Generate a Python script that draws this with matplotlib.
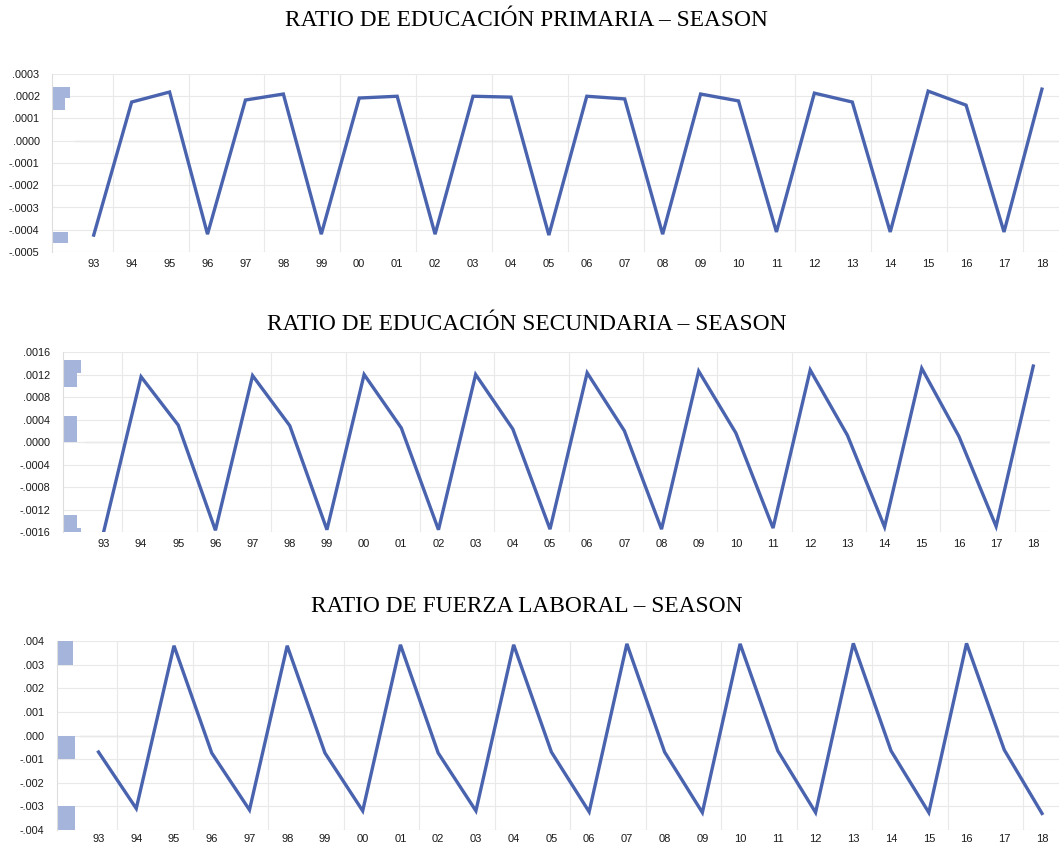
import numpy as np
import matplotlib
matplotlib.use("Agg")
import matplotlib.pyplot as plt
from matplotlib.ticker import FuncFormatter, MultipleLocator

years = ['93', '94', '95', '96', '97', '98', '99', '00', '01', '02', '03', '04', '05',
         '06', '07', '08', '09', '10', '11', '12', '13', '14', '15', '16', '17', '18']

primaria = [-0.000424, 0.000174, 0.000219, -0.000420, 0.000183, 0.000210, -0.000420,
            0.000192, 0.000200, -0.000420, 0.000200, 0.000196, -0.000424, 0.000200,
            0.000188, -0.000420, 0.000210, 0.000179, -0.000410, 0.000214, 0.000174,
            -0.000410, 0.000223, 0.000160, -0.000410, 0.000232]

secundaria = [-0.00158, 0.00116, 0.00030, -0.00157, 0.00118, 0.00029, -0.00156,
              0.00120, 0.00025, -0.00156, 0.00120, 0.00023, -0.00155, 0.00123,
              0.00020, -0.00155, 0.00126, 0.00016, -0.00153, 0.00128, 0.00012,
              -0.00151, 0.00131, 0.00010, -0.00150, 0.00135]

laboral = [-0.00070, -0.00309, 0.00380, -0.00074, -0.00315, 0.00380, -0.00074,
           -0.00319, 0.00384, -0.00074, -0.00319, 0.00384, -0.00070, -0.00323,
           0.00388, -0.00070, -0.00326, 0.00388, -0.00065, -0.00326, 0.00390,
           -0.00065, -0.00326, 0.00390, -0.00061, -0.00330]

# histogram bins (edges) and counts shown at the left of each panel
hist1_lo = [-0.00046, 0.00014, 0.00019]
hist1_hi = [-0.00041, 0.00019, 0.00024]
hist1_n = [9, 7, 10]

hist2_lo = [-0.00165, -0.00153, 0.0, 0.00023, 0.00098, 0.00122]
hist2_hi = [-0.00153, -0.00130, 0.00023, 0.00046, 0.00122, 0.00146]
hist2_n = [5, 4, 4, 4, 4, 5]

hist3_lo = [-0.004, -0.001, 0.003]
hist3_hi = [-0.003, 0.000, 0.004]
hist3_n = [9, 9, 8]

titles = ['RATIO DE EDUCACIÓN PRIMARIA – SEASON',
          'RATIO DE EDUCACIÓN SECUNDARIA – SEASON',
          'RATIO DE FUERZA LABORAL – SEASON']

W, H = 1059, 846
line_color = '#4a63ae'
hist_color = '#a4b4da'
grid_color = '#e9e9e9'
zero_color = '#c4c4c4'
XL, XR = -1.1, 25.45


def fmt(decimals):
    def f(v, pos):
        s = f"{v:.{decimals}f}"
        if s.startswith('-0'):
            s = '-' + s[2:]
        elif s.startswith('0'):
            s = s[1:]
        if s in ('-.0000', '-.000'):
            s = s[1:]
        return s
    return FuncFormatter(f)


def panel(fig, box, series, lo, hi, n, ylim, step, dec, title, title_y, xpad=5):
    left, right, top, bottom = box
    ax = fig.add_axes([left / W, 1 - bottom / H, (right - left) / W, (bottom - top) / H])
    x = np.arange(len(years))

    ax.set_xlim(XL, XR)
    ax.set_ylim(*ylim)

    # grid
    for gx in np.arange(0.5, 25, 2):
        ax.axvline(gx, color=grid_color, lw=0.8, zorder=0)
    ax.yaxis.set_major_locator(MultipleLocator(step))
    ax.grid(axis='y', color=grid_color, lw=0.8, zorder=0)
    ax.axhline(0, xmin=(-0.5 - XL) / (XR - XL), color=zero_color, lw=0.9, zorder=1)

    # distribution bars
    n = np.array(n, dtype=float)
    widths = n / n.max() * 0.48
    ax.barh(lo, widths, height=np.array(hi) - np.array(lo), left=XL, align='edge',
            color=hist_color, edgecolor='none', zorder=2)

    ax.plot(x, series, color=line_color, lw=2.4, zorder=3, solid_joinstyle='miter')

    ax.set_xticks(x)
    ax.set_xticklabels(years, fontsize=8, family='Liberation Sans', color='#1a1a1a')
    ax.yaxis.set_major_formatter(fmt(dec))
    for lab in ax.get_yticklabels():
        lab.set_fontsize(7.8)
        lab.set_family('Liberation Sans')
        lab.set_color('#1a1a1a')
    ax.tick_params(axis='both', length=0)
    ax.tick_params(axis='x', pad=xpad)
    ax.tick_params(axis='y', pad=9)

    for s in ['top', 'right', 'bottom']:
        ax.spines[s].set_visible(False)
    ax.spines['left'].set_color('#dddddd')
    ax.spines['left'].set_linewidth(0.8)

    fig.text(0.497, title_y, title, ha='center', va='center',
             family='Liberation Serif', fontsize=16.8)
    return ax


fig = plt.figure(figsize=(W / 100, H / 100), dpi=100)

panel(fig, (52, 1059, 74, 252), primaria, hist1_lo, hist1_hi, hist1_n,
      (-0.0005, 0.0003), 0.0001, 4, titles[0], 1 - 20 / H)
panel(fig, (63, 1050, 352, 532), secundaria, hist2_lo, hist2_hi, hist2_n,
      (-0.0016, 0.0016), 0.0004, 4, titles[1], 1 - 324 / H)
panel(fig, (57, 1059, 641, 830), laboral, hist3_lo, hist3_hi, hist3_n,
      (-0.004, 0.004), 0.001, 3, titles[2], 1 - 607 / H, xpad=3)

fig.savefig('out.png', dpi=100)
